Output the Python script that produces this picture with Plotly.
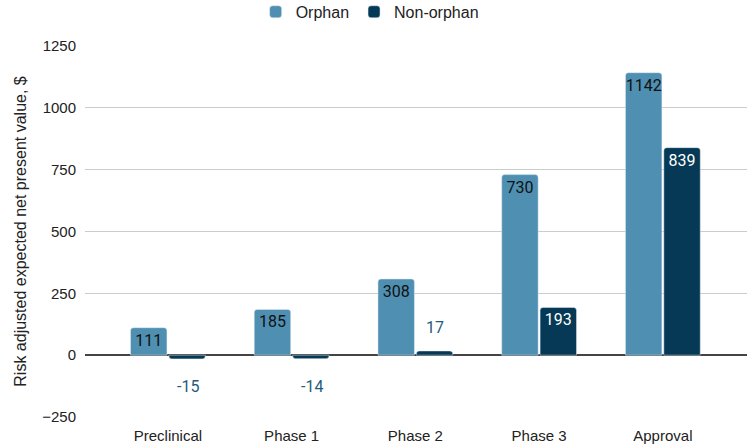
import plotly.graph_objects as go

categories = ["Preclinical", "Phase 1", "Phase 2", "Phase 3", "Approval"]
orphan = [111, 185, 308, 730, 1142]
non_orphan = [-15, -14, 17, 193, 839]
y_ticks = [-250, 0, 250, 500, 750, 1000, 1250]

c_orphan = "#4f8fb1"
c_non = "#053955"
label_font = "Roboto, Arial, sans-serif"

fig = go.Figure()
fig.add_trace(go.Bar(
    x=categories, y=orphan, name="Orphan", marker_color=c_orphan,
    text=[str(v) for v in orphan], textposition="inside", insidetextanchor="end",
    textangle=0, constraintext="none",
    textfont=dict(family=label_font, size=16, color="#111111"),
    cliponaxis=False,
))
inside_mask = [v > 100 for v in non_orphan]
fig.add_trace(go.Bar(
    x=categories, y=non_orphan, name="Non-orphan", marker_color=c_non,
    text=[str(v) if m else "" for v, m in zip(non_orphan, inside_mask)],
    textposition="inside", insidetextanchor="end",
    textangle=0, constraintext="none",
    textfont=dict(family=label_font, size=16, color="#ffffff"),
    cliponaxis=False,
))

annotations = []
for i, (v, m) in enumerate(zip(non_orphan, inside_mask)):
    if m:
        continue
    annotations.append(dict(
        x=i, y=v, xref="x", yref="y", text=str(v), showarrow=False,
        xshift=20, yanchor="top" if v < 0 else "bottom",
        yshift=-16 if v < 0 else 12,
        font=dict(family=label_font, size=16, color="#1f5b7c"),
    ))

fig.update_layout(
    width=749, height=447,
    margin=dict(l=85, r=2, t=46, b=30, autoexpand=False),
    paper_bgcolor="white", plot_bgcolor="white",
    barmode="group", bargap=0.38, bargroupgap=0.05,
    barcornerradius=3,
    font=dict(family="Liberation Sans, Arial, sans-serif", size=15, color="#222222"),
    legend=dict(orientation="h", x=0.43, xanchor="center", xref="paper",
                y=1.092, yanchor="middle", yref="paper",
                font=dict(size=16, color="#222222")),
    annotations=annotations,
    showlegend=True,
)
fig.update_xaxes(range=[-0.67, 4.68], showgrid=False, showline=False, ticks="",
                 ticklabelstandoff=8, tickfont=dict(size=15, color="#222222"))
fig.update_yaxes(range=[-250, 1250], tickvals=y_ticks, showgrid=True, gridcolor="#cccccc",
                 gridwidth=1, zeroline=True, zerolinecolor="#444444", zerolinewidth=1.5,
                 ticklabelstandoff=8, tickfont=dict(size=15, color="#222222"),
                 title=dict(text="Risk adjusted expected net present value, $",
                            font=dict(size=16, color="#222222"), standoff=11))

fig.write_html("out.html", config={"displayModeBar": False},
               post_script="document.body.style.margin='0';")
